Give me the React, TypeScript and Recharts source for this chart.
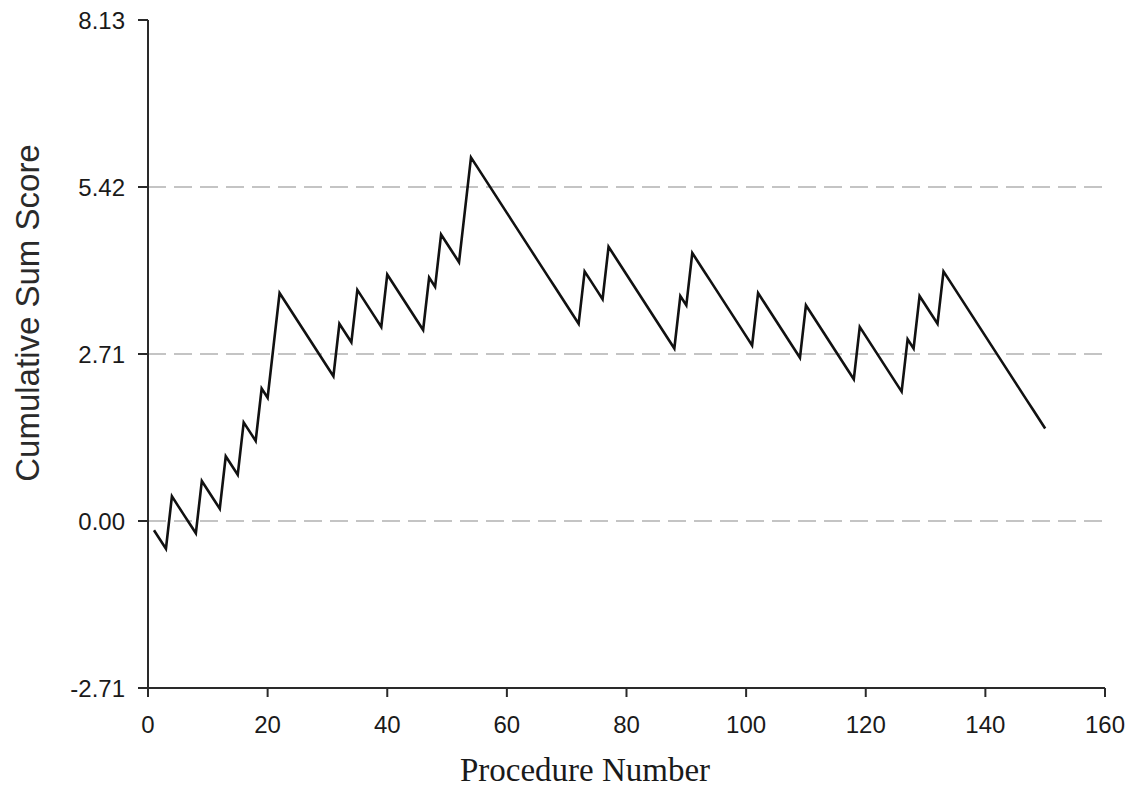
import React from 'react';
import { LineChart, Line, XAxis, YAxis, ReferenceLine, Label } from 'recharts';

const procedures: number[] = [
  1, 2, 3, 4, 5, 6, 7, 8, 9, 10, 11, 12, 13, 14, 15, 16, 17, 18, 19, 20,
  21, 22, 23, 24, 25, 26, 27, 28, 29, 30, 31, 32, 33, 34, 35, 36, 37, 38, 39, 40,
  41, 42, 43, 44, 45, 46, 47, 48, 49, 50, 51, 52, 53, 54, 55, 56, 57, 58, 59, 60,
  61, 62, 63, 64, 65, 66, 67, 68, 69, 70, 71, 72, 73, 74, 75, 76, 77, 78, 79, 80,
  81, 82, 83, 84, 85, 86, 87, 88, 89, 90, 91, 92, 93, 94, 95, 96, 97, 98, 99, 100,
  101, 102, 103, 104, 105, 106, 107, 108, 109, 110, 111, 112, 113, 114, 115, 116, 117, 118, 119, 120,
  121, 122, 123, 124, 125, 126, 127, 128, 129, 130, 131, 132, 133, 134, 135, 136, 137, 138, 139, 140,
  141, 142, 143, 144, 145, 146, 147, 148, 149, 150,
];

const cusumScores: number[] = [
  -0.15, -0.3, -0.45, 0.4, 0.25, 0.1, -0.05, -0.2, 0.65, 0.5,
  0.35, 0.2, 1.05, 0.9, 0.75, 1.6, 1.45, 1.3, 2.15, 2.0,
  2.85, 3.7, 3.55, 3.4, 3.25, 3.1, 2.95, 2.8, 2.65, 2.5,
  2.35, 3.2, 3.05, 2.9, 3.75, 3.6, 3.45, 3.3, 3.15, 4.0,
  3.85, 3.7, 3.55, 3.4, 3.25, 3.1, 3.95, 3.8, 4.65, 4.5,
  4.35, 4.2, 5.05, 5.9, 5.75, 5.6, 5.45, 5.3, 5.15, 5.0,
  4.85, 4.7, 4.55, 4.4, 4.25, 4.1, 3.95, 3.8, 3.65, 3.5,
  3.35, 3.2, 4.05, 3.9, 3.75, 3.6, 4.45, 4.3, 4.15, 4.0,
  3.85, 3.7, 3.55, 3.4, 3.25, 3.1, 2.95, 2.8, 3.65, 3.5,
  4.35, 4.2, 4.05, 3.9, 3.75, 3.6, 3.45, 3.3, 3.15, 3.0,
  2.85, 3.7, 3.55, 3.4, 3.25, 3.1, 2.95, 2.8, 2.65, 3.5,
  3.35, 3.2, 3.05, 2.9, 2.75, 2.6, 2.45, 2.3, 3.15, 3.0,
  2.85, 2.7, 2.55, 2.4, 2.25, 2.1, 2.95, 2.8, 3.65, 3.5,
  3.35, 3.2, 4.05, 3.9, 3.75, 3.6, 3.45, 3.3, 3.15, 3.0,
  2.85, 2.7, 2.55, 2.4, 2.25, 2.1, 1.95, 1.8, 1.65, 1.5,
];

const xTicks: number[] = [0, 20, 40, 60, 80, 100, 120, 140, 160];
const yTicks: number[] = [-2.71, 0, 2.71, 5.42, 8.13];
const dashedLevels: number[] = [0, 2.71, 5.42];

const xTitle = 'Procedure Number';
const yTitle = 'Cumulative Sum Score';

const data = procedures.map((p, i) => ({ procedure: p, score: cusumScores[i] }));

const axisColor = '#2a2a2a';
const tickFont = { fontFamily: 'Liberation Sans, Arial, sans-serif', fontSize: 24, fill: '#1a1a1a' };

export default function App() {
  return (
    <div style={{ position: 'absolute', left: 0, top: 0, width: 1140, height: 789, background: '#fff' }}>
      <LineChart
        width={1140}
        height={789}
        data={data}
        margin={{ top: 20, right: 35, bottom: 41, left: 0 }}
      >
        {dashedLevels.map((v) => (
          <ReferenceLine
            key={v}
            y={v}
            stroke="#c4c4c4"
            strokeWidth={2}
            strokeDasharray="18 8"
          />
        ))}
        <XAxis
          dataKey="procedure"
          type="number"
          domain={[0, 160]}
          ticks={xTicks}
          interval={0}
          height={60}
          tickSize={9}
          tickMargin={19}
          stroke={axisColor}
          strokeWidth={2}
          tick={tickFont}
          tickLine={{ stroke: axisColor, strokeWidth: 2 }}
        >
          <Label
            content={() => (
              <text
                x={585}
                y={770}
                textAnchor="middle"
                dominantBaseline="central"
                style={{ fontFamily: 'Liberation Serif, Times New Roman, serif', fontSize: 33, fill: '#1a1a1a' }}
              >
                {xTitle}
              </text>
            )}
          />
        </XAxis>
        <YAxis
          type="number"
          domain={[-2.71, 8.13]}
          ticks={yTicks}
          interval={0}
          allowDataOverflow
          width={148}
          tickSize={10}
          tickMargin={13}
          stroke={axisColor}
          strokeWidth={2}
          tick={tickFont}
          tickLine={{ stroke: axisColor, strokeWidth: 2 }}
          tickFormatter={(v: number) => v.toFixed(2)}
        >
          <Label
            content={() => (
              <text
                x={27}
                y={313}
                textAnchor="middle"
                dominantBaseline="central"
                transform="rotate(-90, 27, 313)"
                style={{ fontFamily: 'Liberation Sans, Arial, sans-serif', fontSize: 33, fill: '#2a2a2a' }}
              >
                {yTitle}
              </text>
            )}
          />
        </YAxis>
        <Line
          type="linear"
          dataKey="score"
          stroke="#111"
          strokeWidth={2.6}
          dot={false}
          isAnimationActive={false}
        />
      </LineChart>
    </div>
  );
}
